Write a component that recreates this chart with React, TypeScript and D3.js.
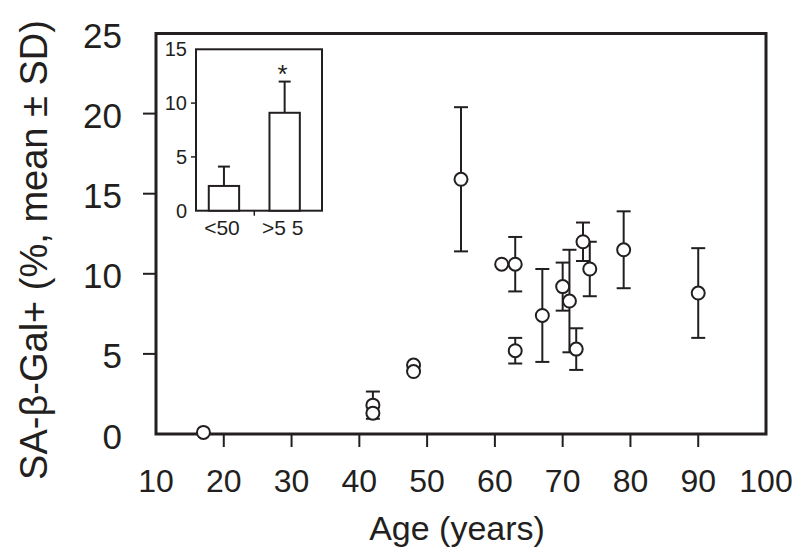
import React, { useRef, useEffect } from "react";
import * as d3 from "d3";

// main scatter: age vs SA-beta-Gal+ (mean, SD)
const ages = [17, 42, 42, 48, 48, 55, 61, 63, 63, 67, 70, 71, 72, 73, 74, 79, 90];
const means = [0.1, 1.8, 1.3, 4.3, 3.9, 15.9, 10.6, 10.6, 5.2, 7.4, 9.2, 8.3, 5.3, 12.0, 10.3, 11.5, 8.8];
const sds = [0, 0.85, 0, 0, 0, 4.5, 0, 1.7, 0.8, 2.9, 1.5, 3.2, 1.3, 1.2, 1.7, 2.4, 2.8];

const xTicks = [10, 20, 30, 40, 50, 60, 70, 80, 90, 100];
const yTicks = [0, 5, 10, 15, 20, 25];

// inset bar chart
const insetGroups = ["<50", ">5 5"];
const insetMeans = [2.3, 9.1];
const insetSds = [1.8, 2.9];
const insetTicks = [0, 5, 10, 15];

const INK = "#231f20";
const FONT = "'Liberation Sans', Arial, Helvetica, sans-serif";

const App = () => {
  const svgRef = useRef<SVGSVGElement>(null);

  const drawMain = (svg: d3.Selection<SVGSVGElement, unknown, null, undefined>) => {
    const x = d3.scaleLinear().domain([10, 100]).range([156, 766]);
    const y = d3.scaleLinear().domain([0, 25]).range([434, 33.5]);
    const g = svg.append("g");

    g.append("rect")
      .attr("x", x(10))
      .attr("y", y(25))
      .attr("width", x(100) - x(10))
      .attr("height", y(0) - y(25))
      .attr("fill", "none")
      .attr("stroke", INK)
      .attr("stroke-width", 3);

    // x ticks + labels
    g.selectAll(".xt")
      .data(xTicks.filter((t) => t > 10 && t < 100))
      .join("line")
      .attr("x1", (d) => x(d))
      .attr("x2", (d) => x(d))
      .attr("y1", y(0))
      .attr("y2", y(0) + 13)
      .attr("stroke", INK)
      .attr("stroke-width", 2);
    g.selectAll(".xl")
      .data(xTicks)
      .join("text")
      .attr("x", (d) => x(d))
      .attr("y", 492)
      .attr("text-anchor", "middle")
      .attr("font-size", 32)
      .attr("font-family", FONT)
      .attr("fill", INK)
      .text((d) => d);

    // y ticks + labels
    g.selectAll(".yt")
      .data(yTicks.filter((t) => t > 0 && t < 25))
      .join("line")
      .attr("x1", x(10) - 13)
      .attr("x2", x(10))
      .attr("y1", (d) => y(d))
      .attr("y2", (d) => y(d))
      .attr("stroke", INK)
      .attr("stroke-width", 2);
    g.selectAll(".yl")
      .data(yTicks)
      .join("text")
      .attr("x", 122)
      .attr("y", (d) => y(d) + 2)
      .attr("text-anchor", "end")
      .attr("dominant-baseline", "central")
      .attr("font-size", 35)
      .attr("font-family", FONT)
      .attr("fill", INK)
      .text((d) => d);

    g.append("text")
      .attr("x", 457)
      .attr("y", 540)
      .attr("text-anchor", "middle")
      .attr("font-size", 34)
      .attr("font-family", FONT)
      .attr("fill", INK)
      .text("Age (years)");

    g.append("text")
      .attr("transform", "translate(47,250) rotate(-90)")
      .attr("text-anchor", "middle")
      .attr("font-size", 38)
      .attr("font-family", FONT)
      .attr("fill", INK)
      .text("SA-β-Gal+ (%, mean ± SD)");

    // error bars first, circles on top
    const pts = ages.map((a, i) => ({ a, m: means[i], s: sds[i] }));
    const eb = g.selectAll(".eb").data(pts.filter((p) => p.s > 0)).join("g");
    eb.append("line")
      .attr("x1", (d) => x(d.a))
      .attr("x2", (d) => x(d.a))
      .attr("y1", (d) => y(d.m - d.s))
      .attr("y2", (d) => y(d.m + d.s))
      .attr("stroke", INK)
      .attr("stroke-width", 2);
    [1, -1].forEach((sgn) => {
      eb.append("line")
        .attr("x1", (d) => x(d.a) - 7)
        .attr("x2", (d) => x(d.a) + 7)
        .attr("y1", (d) => y(d.m + sgn * d.s))
        .attr("y2", (d) => y(d.m + sgn * d.s))
        .attr("stroke", INK)
        .attr("stroke-width", 2);
    });

    g.selectAll(".pt")
      .data(pts)
      .join("circle")
      .attr("cx", (d) => x(d.a))
      .attr("cy", (d) => y(d.m))
      .attr("r", 6.5)
      .attr("fill", "white")
      .attr("stroke", INK)
      .attr("stroke-width", 2);
  };

  const drawInset = (svg: d3.Selection<SVGSVGElement, unknown, null, undefined>) => {
    const y = d3.scaleLinear().domain([0, 15]).range([210.7, 49.3]);
    const x = d3.scaleBand().domain(insetGroups).range([193.6, 315]).paddingInner(0.5).paddingOuter(0.25);
    const g = svg.append("g");

    g.append("rect")
      .attr("x", 196)
      .attr("y", y(15))
      .attr("width", 126)
      .attr("height", y(0) - y(15))
      .attr("fill", "white")
      .attr("stroke", INK)
      .attr("stroke-width", 2);

    g.selectAll(".it")
      .data(insetTicks.filter((t) => t > 0 && t < 15))
      .join("line")
      .attr("x1", 191)
      .attr("x2", 196)
      .attr("y1", (d) => y(d))
      .attr("y2", (d) => y(d))
      .attr("stroke", INK)
      .attr("stroke-width", 1.5);
    g.selectAll(".il")
      .data(insetTicks)
      .join("text")
      .attr("x", 187)
      .attr("y", (d) => y(d))
      .attr("text-anchor", "end")
      .attr("dominant-baseline", "central")
      .attr("font-size", 20)
      .attr("font-family", FONT)
      .attr("fill", INK)
      .text((d) => d);

    const bw = x.bandwidth();
    const data = insetGroups.map((c, i) => ({ c, m: insetMeans[i], s: insetSds[i] }));
    const cx = (c: string) => (x(c) as number) + bw / 2;

    g.selectAll(".ie")
      .data(data)
      .join("line")
      .attr("x1", (d) => cx(d.c))
      .attr("x2", (d) => cx(d.c))
      .attr("y1", (d) => y(d.m))
      .attr("y2", (d) => y(d.m + d.s))
      .attr("stroke", INK)
      .attr("stroke-width", 2);
    g.selectAll(".ic")
      .data(data)
      .join("line")
      .attr("x1", (d) => cx(d.c) - 6)
      .attr("x2", (d) => cx(d.c) + 6)
      .attr("y1", (d) => y(d.m + d.s))
      .attr("y2", (d) => y(d.m + d.s))
      .attr("stroke", INK)
      .attr("stroke-width", 2);

    g.selectAll(".ib")
      .data(data)
      .join("rect")
      .attr("x", (d) => x(d.c) as number)
      .attr("y", (d) => y(d.m))
      .attr("width", bw)
      .attr("height", (d) => y(0) - y(d.m))
      .attr("fill", "white")
      .attr("stroke", INK)
      .attr("stroke-width", 2);

    // tick between the groups
    const mid = ((x(insetGroups[0]) as number) + bw + (x(insetGroups[1]) as number)) / 2;
    g.append("line")
      .attr("x1", mid)
      .attr("x2", mid)
      .attr("y1", y(0))
      .attr("y2", y(0) + 5)
      .attr("stroke", INK)
      .attr("stroke-width", 1.5);

    g.selectAll(".ix")
      .data(insetGroups)
      .join("text")
      .attr("x", (d) => cx(d) - 2)
      .attr("y", 235)
      .attr("text-anchor", "middle")
      .attr("font-size", 21)
      .attr("font-family", FONT)
      .attr("fill", INK)
      .text((d) => d);

    g.append("text")
      .attr("x", cx(insetGroups[1]) - 2)
      .attr("y", 83)
      .attr("text-anchor", "middle")
      .attr("font-size", 26)
      .attr("font-family", FONT)
      .attr("fill", INK)
      .text("*");
  };

  useEffect(() => {
    const svg = d3.select(svgRef.current as SVGSVGElement);
    svg.selectAll("*").remove();
    drawMain(svg);
    drawInset(svg);
  }, []);

  return (
    <svg
      ref={svgRef}
      width={800}
      height={560}
      style={{ position: "absolute", left: 0, top: 0, background: "white" }}
    />
  );
};

export default App;
